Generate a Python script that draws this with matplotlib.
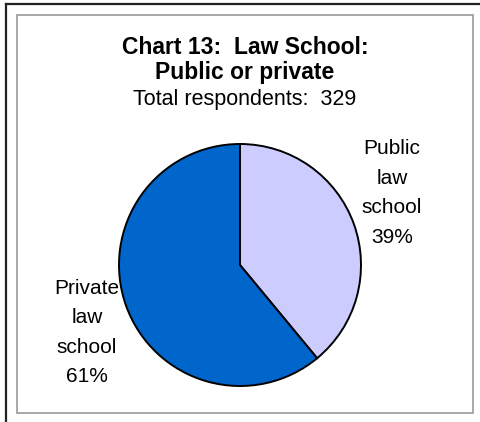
import matplotlib.pyplot as plt
from matplotlib.patches import Rectangle
from matplotlib.lines import Line2D

categories = ["Public\nlaw\nschool", "Private\nlaw\nschool"]
percents = [39, 61]
colors = ["#CCCCFF", "#0066CC"]
title = "Chart 13:  Law School:\nPublic or private"
subtitle = "Total respondents:  329"

W, H = 481, 422
plt.rcParams["font.family"] = ["Liberation Sans", "DejaVu Sans"]

fig = plt.figure(figsize=(W / 100, H / 100), dpi=100)
fig.patch.set_facecolor("white")

# outer frame (top and left only visible) and inner gray box
fig.add_artist(Line2D([5.5 / W, 1], [1 - 3.5 / H, 1 - 3.5 / H], transform=fig.transFigure,
                      color="#222222", lw=1.6))
fig.add_artist(Line2D([5.5 / W, 5.5 / W], [0, 1 - 3.5 / H], transform=fig.transFigure,
                      color="#222222", lw=1.6))
fig.add_artist(Rectangle((17 / W, (H - 413) / H), 456 / W, 398 / H, transform=fig.transFigure,
                         fill=False, edgecolor="#999999", lw=1.2))

fig.text(245 / W, 1 - 60 / H, title, ha="center", va="center", fontsize=16.5,
         fontweight="bold", linespacing=1.15)
fig.text(245 / W, 1 - 100 / H, subtitle, ha="center", va="center", fontsize=15.5)

cx, cy, r = 240, 265, 121
ax = fig.add_axes([(cx - r) / W, (H - cy - r) / H, 2 * r / W, 2 * r / H])
ax.pie(percents, colors=colors, startangle=90, counterclock=False, radius=1,
       wedgeprops=dict(edgecolor="black", linewidth=1.4))
ax.set_xlim(-1, 1)
ax.set_ylim(-1, 1)
ax.set_aspect("equal")
ax.axis("off")

label_pos = [(1.256, 0.595), (-1.264, -0.558)]
for name, pct, (lx, ly) in zip(categories, percents, label_pos):
    ax.text(lx, ly, f"{name}\n{pct}%", ha="center", va="center", fontsize=15,
            linespacing=1.7, clip_on=False)

fig.savefig("out.png", dpi=100)
